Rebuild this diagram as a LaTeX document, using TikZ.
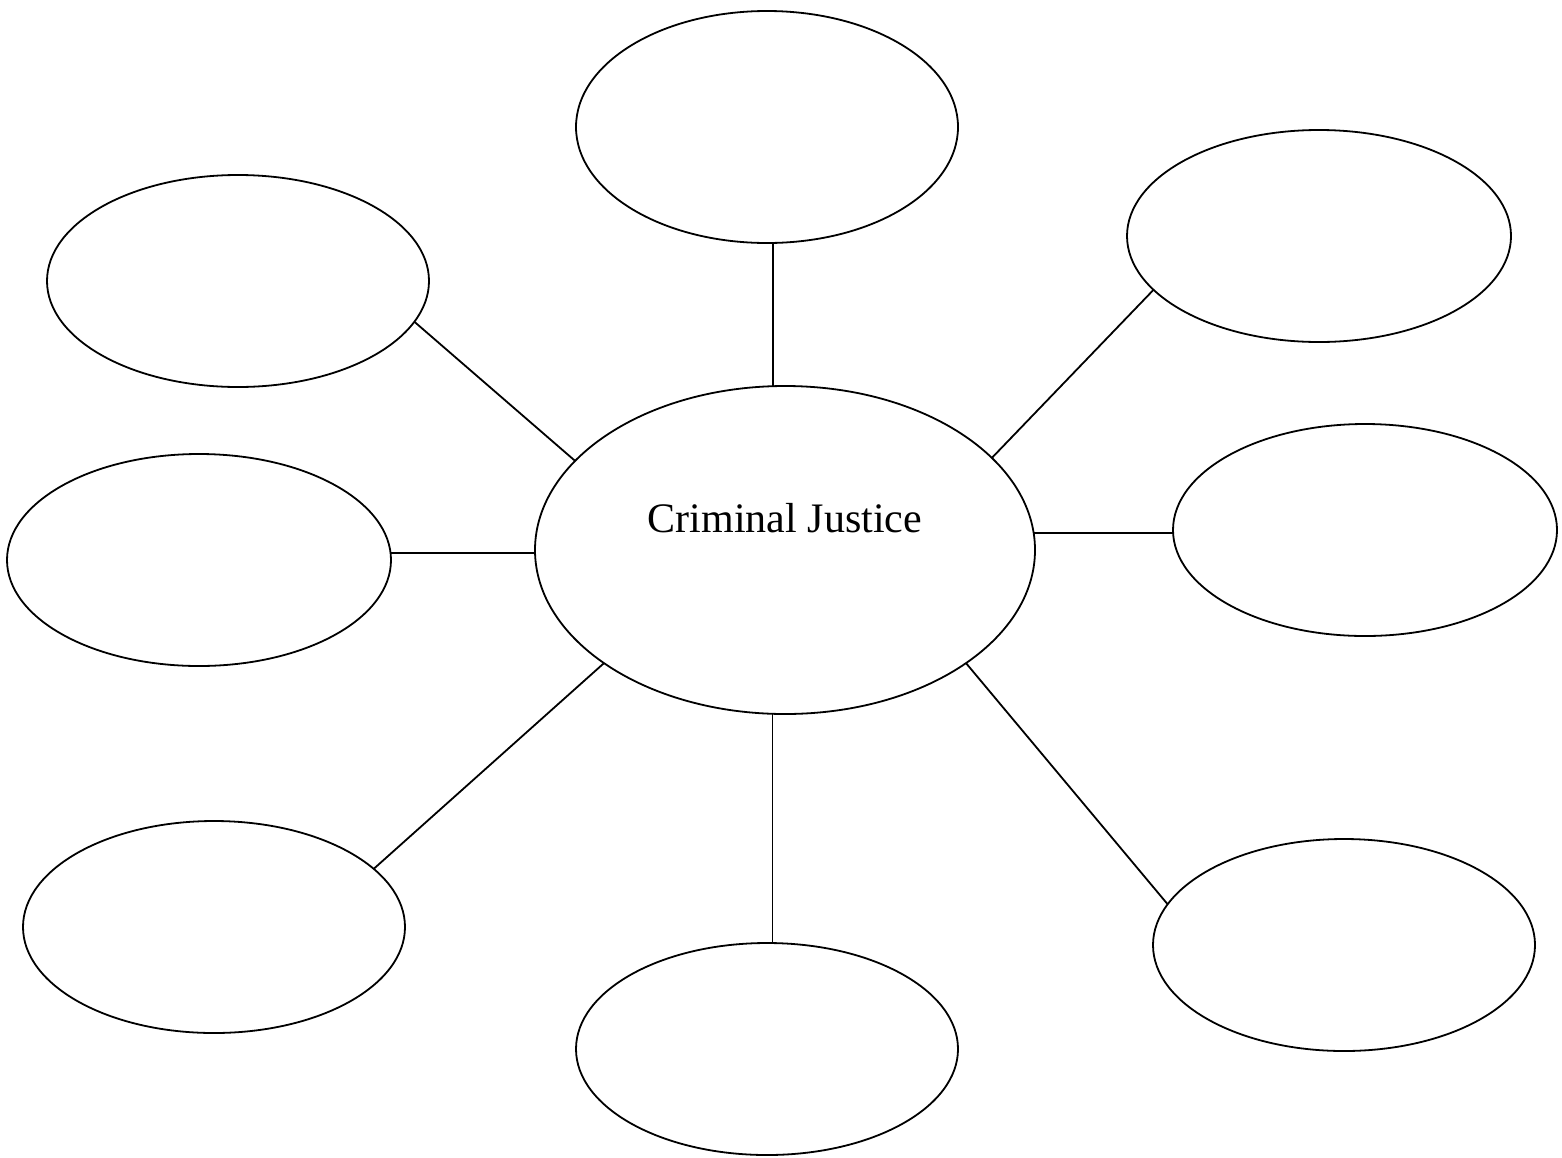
\documentclass[tikz,border=0pt]{standalone}
\usepackage{fontspec}
\setmainfont{Liberation Serif}
\usetikzlibrary{shapes.geometric}
\begin{document}
\begin{tikzpicture}[x=1pt,y=-1pt,
  bubble/.style={draw,ellipse,line width=1.8pt,inner sep=0pt,outer sep=0pt,minimum width=382pt,minimum height=212pt},
  link/.style={line width=1.8pt}]
\useasboundingbox (0,0) rectangle (1562,1157);
\node[bubble,minimum width=500pt,minimum height=328pt] (cj) at (785,550) {};
\node[font=\fontsize{42}{50}\selectfont] (cjt) at (785,518) {Criminal Justice};
\node[bubble,minimum height=232pt] (t) at (767,127) {};
\node[bubble] (tl) at (238,281) {};
\node[bubble,minimum width=384pt] (tr) at (1319,236) {};
\node[bubble,minimum width=384pt] (l) at (199,560) {};
\node[bubble,minimum width=384pt] (r) at (1365,530) {};
\node[bubble] (bl) at (214,927) {};
\node[bubble] (b) at (767,1049) {};
\node[bubble] (br) at (1344,945) {};
\draw[link] (t.-87) -- (t.-87 |- cj.north);
\draw[link] (cj.157.7) -- (tl.-13);
\draw[link] (cj.24.8) -- (tr.198.9);
\draw[link] (l.2.1) -- (l.2.1 -| cj.west);
\draw[link] (cj.4.5) -- (cj.4.5 -| r.west);
\draw[link] (cj.212) -- (bl.20);
\draw[link] (b.87.2) -- (b.87.2 |- cj.south);
\draw[link] (cj.-32.1) -- (br.167.6);
\end{tikzpicture}
\end{document}
